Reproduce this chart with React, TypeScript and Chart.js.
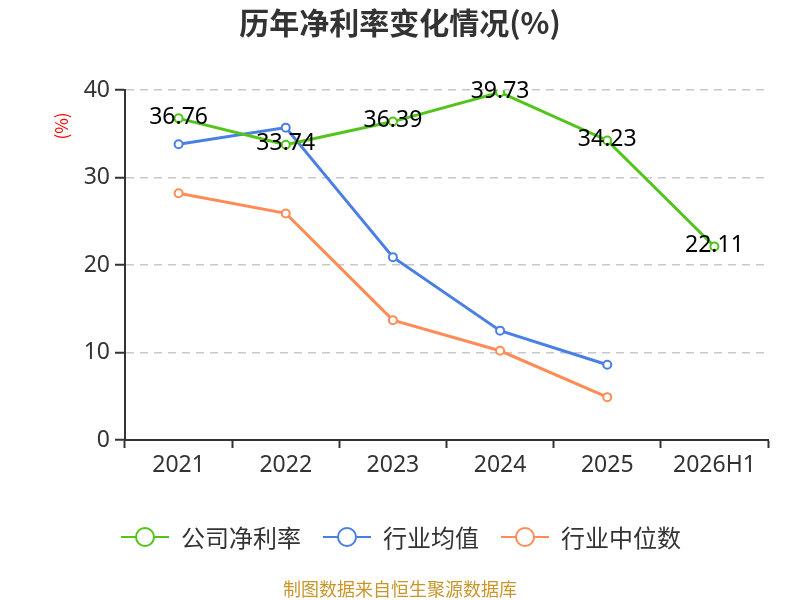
import React, { useEffect, useRef } from "react";
import { Chart, registerables } from "chart.js";

Chart.register(...registerables);

// 数据
const years = ["2021", "2022", "2023", "2024", "2025", "2026H1"];
const companyMargin = [36.76, 33.74, 36.39, 39.73, 34.23, 22.11];
const industryMean = [33.8, 35.7, 20.9, 12.5, 8.6, null];
const industryMedian = [28.2, 25.9, 13.7, 10.2, 4.9, null];
const seriesNames = ["公司净利率", "行业均值", "行业中位数"];
const seriesColors = ["#52C41A", "#4A7FE3", "#FF8C57"];
const yTicks = [0, 10, 20, 30, 40];

const FONT = "'Noto Sans', 'Noto Sans CJK SC', sans-serif";
const CJK = "'Noto Sans CJK SC', 'Noto Sans', sans-serif";

// 标题、图例、数据标签等自定义绘制
const decorPlugin = {
  id: "decor",
  afterDatasetsDraw(chart: any) {
    const ctx = chart.ctx;
    ctx.save();

    // 公司净利率数据标签
    const meta = chart.getDatasetMeta(0);
    ctx.font = `23px ${FONT}`;
    ctx.fillStyle = "#000";
    ctx.textAlign = "center";
    ctx.textBaseline = "middle";
    meta.data.forEach((pt: any, i: number) => {
      ctx.fillText(companyMargin[i].toFixed(2), pt.x, pt.y - 1);
    });
    ctx.restore();
  },
  afterDraw(chart: any) {
    const ctx = chart.ctx;
    ctx.save();

    // 标题
    ctx.font = `bold 30px ${CJK}`;
    ctx.fillStyle = "#333";
    ctx.textAlign = "center";
    ctx.textBaseline = "middle";
    ctx.fillText("历年净利率变化情况(%)", 400, 23);

    // y轴单位
    ctx.save();
    ctx.translate(62, 126);
    ctx.rotate(-Math.PI / 2);
    ctx.font = `17px ${CJK}`;
    ctx.fillStyle = "#FF0000";
    ctx.fillText("(%)", 0, 0);
    ctx.restore();

    // 图例
    const legendX = [121, 323, 501];
    ctx.font = `24px ${CJK}`;
    ctx.textAlign = "left";
    seriesNames.forEach((name, i) => {
      const x = legendX[i];
      const y = 537;
      ctx.strokeStyle = seriesColors[i];
      ctx.lineWidth = 2;
      ctx.beginPath();
      ctx.moveTo(x, y);
      ctx.lineTo(x + 48, y);
      ctx.stroke();
      ctx.beginPath();
      ctx.arc(x + 24, y, 9, 0, Math.PI * 2);
      ctx.fillStyle = "#fff";
      ctx.fill();
      ctx.stroke();
      ctx.fillStyle = "#333";
      ctx.fillText(name, x + 60, y + 1);
    });

    // 数据来源
    ctx.font = `18px ${CJK}`;
    ctx.fillStyle = "#C9962B";
    ctx.textAlign = "center";
    ctx.fillText("制图数据来自恒生聚源数据库", 400, 589);

    ctx.restore();
  },
};

const NetMarginChart: React.FC = () => {
  const canvasRef = useRef<HTMLCanvasElement>(null);

  useEffect(() => {
    document.body.style.margin = "0";
    if (!canvasRef.current) return;
    const ctx = canvasRef.current.getContext("2d");
    if (!ctx) return;

    const mkSet = (label: string, data: (number | null)[], color: string) => ({
      label,
      data,
      borderColor: color,
      backgroundColor: "#fff",
      borderWidth: 3,
      pointRadius: 4,
      pointBorderWidth: 2,
      pointBackgroundColor: "#fff",
      pointBorderColor: color,
      fill: false,
      tension: 0,
    });

    const myChart = new Chart(ctx, {
      type: "line",
      data: {
        labels: years,
        datasets: [
          mkSet(seriesNames[0], companyMargin, seriesColors[0]),
          mkSet(seriesNames[1], industryMean, seriesColors[1]),
          mkSet(seriesNames[2], industryMedian, seriesColors[2]),
        ],
      },
      options: {
        responsive: false,
        animation: false,
        layout: { padding: { top: 90, right: 32, bottom: 120, left: 0 } },
        plugins: {
          legend: { display: false },
          title: { display: false },
          tooltip: { enabled: false },
        },
        scales: {
          x: {
            offset: true,
            afterFit: (scale: any) => {
              scale.height = 40;
            },
            grid: {
              offset: true,
              drawOnChartArea: false,
              drawTicks: true,
              tickLength: 8,
              tickColor: "#333",
              tickWidth: 2,
            },
            border: { display: true, color: "#333", width: 2 },
            ticks: {
              color: "#333",
              font: { size: 23, family: FONT },
              padding: 4,
              maxRotation: 0,
            },
          },
          y: {
            min: 0,
            max: 40,
            afterFit: (scale: any) => {
              scale.width = 125;
            },
            afterBuildTicks: (scale: any) => {
              scale.ticks = yTicks.map((v) => ({ value: v }));
            },
            grid: {
              color: (c: any) => (c.tick && c.tick.value === 0 ? "rgba(0,0,0,0)" : "#C8C8C8"),
              lineWidth: 1.5,
              drawTicks: true,
              tickLength: 10,
              tickColor: "#333",
              tickWidth: 2,
            },
            border: { display: true, color: "#333", width: 2, dash: [8, 6] },
            ticks: {
              color: "#333",
              font: { size: 23, family: FONT },
              padding: 5,
            },
          },
        },
      },
      plugins: [decorPlugin],
    } as any);

    return () => {
      myChart.destroy();
    };
  }, []);

  return (
    <div style={{ width: 800, height: 600 }}>
      <canvas ref={canvasRef} width={800} height={600}></canvas>
    </div>
  );
};

export default function App() {
  return <NetMarginChart />;
}
